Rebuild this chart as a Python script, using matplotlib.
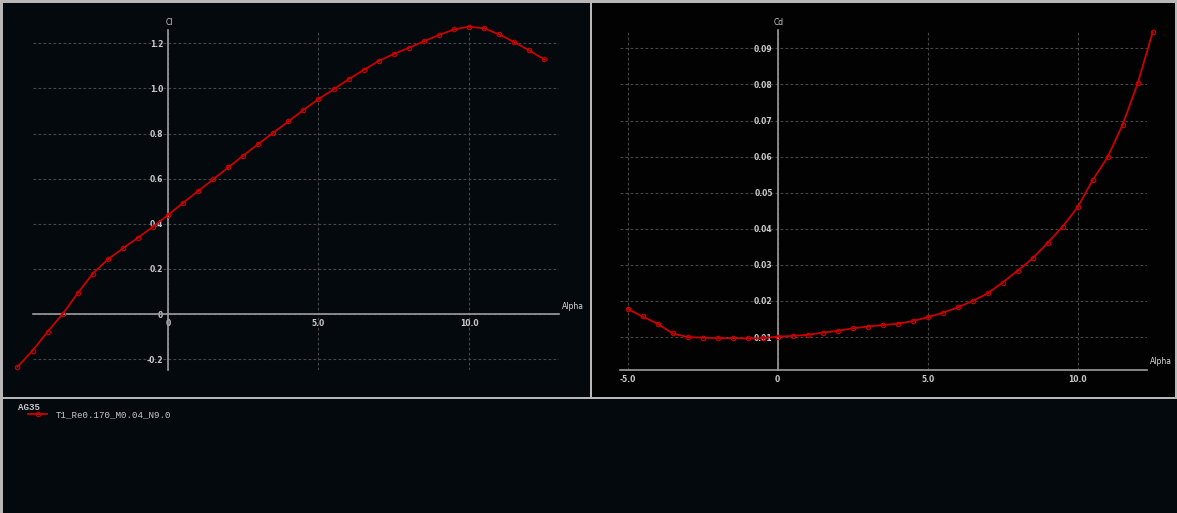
import matplotlib
matplotlib.use("Agg")
import matplotlib.pyplot as plt
import matplotlib.transforms as mtrans

# polar data
alpha = [-5.0, -4.5, -4.0, -3.5, -3.0, -2.5, -2.0, -1.5, -1.0, -0.5,
         0.0, 0.5, 1.0, 1.5, 2.0, 2.5, 3.0, 3.5, 4.0, 4.5,
         5.0, 5.5, 6.0, 6.5, 7.0, 7.5, 8.0, 8.5, 9.0, 9.5,
         10.0, 10.5, 11.0, 11.5, 12.0, 12.5]
cl = [-0.234, -0.163, -0.078, 0.000, 0.092, 0.179, 0.242, 0.291, 0.338, 0.387,
      0.439, 0.493, 0.545, 0.597, 0.650, 0.702, 0.754, 0.804, 0.854, 0.905,
      0.953, 0.996, 1.041, 1.082, 1.122, 1.153, 1.180, 1.209, 1.237, 1.262,
      1.274, 1.267, 1.240, 1.206, 1.169, 1.129]
cd = [0.0178, 0.0157, 0.0137, 0.0110, 0.0100, 0.0098, 0.0097, 0.0097, 0.0096, 0.0097,
      0.0101, 0.0103, 0.0106, 0.0112, 0.0117, 0.0124, 0.0129, 0.0133, 0.0137, 0.0144,
      0.0155, 0.0167, 0.0182, 0.0200, 0.0221, 0.0251, 0.0284, 0.0318, 0.0361, 0.0406,
      0.0460, 0.0535, 0.0599, 0.0689, 0.0803, 0.0945]

foil = "AG35"
polar_name = "T1_Re0.170_M0.04_N9.0"

cl_xticks = [0, 5, 10]
cl_xlabels = ["0", "5.0", "10.0"]
cl_yticks = [-0.2, 0, 0.2, 0.4, 0.6, 0.8, 1.0, 1.2]
cl_ylabels = ["-0.2", "0", "0.2", "0.4", "0.6", "0.8", "1.0", "1.2"]
cd_xticks = [-5, 0, 5, 10]
cd_xlabels = ["-5.0", "0", "5.0", "10.0"]
cd_yticks = [0.01, 0.02, 0.03, 0.04, 0.05, 0.06, 0.07, 0.08, 0.09]
cd_ylabels = ["0.01", "0.02", "0.03", "0.04", "0.05", "0.06", "0.07", "0.08", "0.09"]

W, H = 1177, 513
fig = plt.figure(figsize=(W / 100, H / 100), dpi=100, facecolor="#b8b8b8")

def px_axes(x0, y0, x1, y1, **kw):
    # pixel box measured from the top-left corner
    return fig.add_axes([x0 / W, (H - y1) / H, (x1 - x0) / W, (y1 - y0) / H], **kw)

def panel(x0, y0, x1, y1, color):
    a = px_axes(x0, y0, x1, y1)
    a.set_facecolor(color)
    a.set_xticks([])
    a.set_yticks([])
    for s in a.spines.values():
        s.set_visible(False)
    return a

left_bg = "#03090d"
right_bg = "#020202"
panel(3, 3, 590, 397, left_bg)
panel(592, 3, 1175, 397, right_bg)
bottom = panel(3, 399, 1177, 513, left_bg)

red = "#cc0000"
axis_col = "#9c9c9c"
grid_col = "#474747"
txt_col = "#c8c8c8"

def style(ax, xt, xl, yt, yl, ylab, bottom_at_zero):
    ax.set_facecolor("none")
    ax.spines["top"].set_visible(False)
    ax.spines["right"].set_visible(False)
    ax.spines["left"].set_position(("data", 0))
    if bottom_at_zero:
        ax.spines["bottom"].set_position(("data", 0))
    for s in ("left", "bottom"):
        ax.spines[s].set_color(axis_col)
        ax.spines[s].set_linewidth(1.2)
    ax.set_xticks(xt)
    ax.set_xticklabels(xl)
    ax.set_yticks(yt)
    ax.set_yticklabels(yl)
    ax.tick_params(axis="both", length=0, labelsize=5.5, labelcolor=txt_col)
    ax.tick_params(axis="x", pad=3.5)
    ax.tick_params(axis="y", pad=3.5)
    for t in ax.get_xticklabels() + ax.get_yticklabels():
        t.set_fontweight("bold")
    ax.grid(True, color=grid_col, linestyle=(0, (2.5, 2)), linewidth=0.8)
    ax.set_axisbelow(True)
    tr = mtrans.blended_transform_factory(ax.transData, ax.transAxes)
    ax.annotate(ylab, xy=(0, 1), xycoords=tr, xytext=(1, 3), textcoords="offset pixels",
                ha="center", va="bottom", fontsize=5.5, color=txt_col)
    ybase = 0 if bottom_at_zero else ax.get_ylim()[0]
    tr2 = mtrans.blended_transform_factory(ax.transAxes, ax.transData)
    ax.annotate("Alpha", xy=(1, ybase), xycoords=tr2, xytext=(3, 8), textcoords="offset pixels",
                ha="left", va="center", fontsize=5.5, color="#dcdcdc")

# lift coefficient
ax1 = px_axes(33, 30, 559, 370)
ax1.set_xlim(-4.485, 12.99)
ax1.set_ylim(-0.2483, 1.2594)
line, = ax1.plot(alpha, cl, color=red, lw=1.3, marker="o", ms=3.2, mfc="none",
                 mec=red, mew=0.8, clip_on=False, zorder=5, label=polar_name)
style(ax1, cl_xticks, cl_xlabels, cl_yticks, cl_ylabels, "Cl", True)

# drag coefficient
ax2 = px_axes(620, 30, 1147, 370)
ax2.set_xlim(-5.25, 12.31)
ax2.set_ylim(0.00086, 0.0951)
ax2.plot(alpha, cd, color=red, lw=1.3, marker="o", ms=3.2, mfc="none",
         mec=red, mew=0.8, clip_on=False, zorder=5)
style(ax2, cd_xticks, cd_xlabels, cd_yticks, cd_ylabels, "Cd", False)

# legend panel
bottom.text(15 / 1174, 1 - 8 / 114, foil, transform=bottom.transAxes, ha="left", va="center",
            family="Liberation Mono", fontsize=6.6, fontweight="bold", color=txt_col)
leg = bottom.legend(handles=[line], loc="upper left", bbox_to_anchor=(25 / 1174, 1 - 11 / 114),
                    frameon=False, borderpad=0, borderaxespad=0, numpoints=1,
                    handlelength=2.1, handletextpad=0.95,
                    prop={"family": "Liberation Mono", "size": 6.6})
for t in leg.get_texts():
    t.set_color(txt_col)

fig.savefig("out.png", dpi=100, facecolor=fig.get_facecolor())
